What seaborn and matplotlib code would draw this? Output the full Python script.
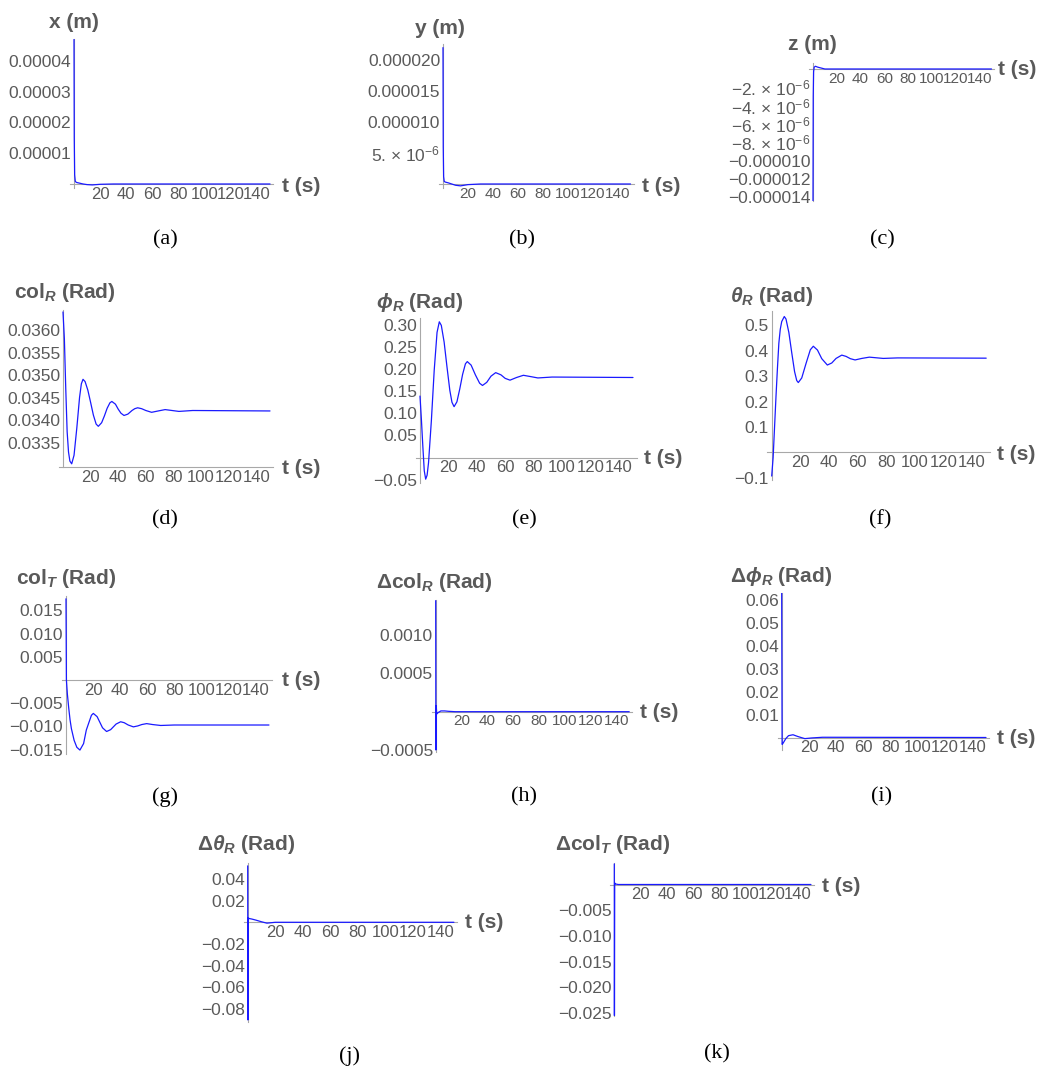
import seaborn as sns
import matplotlib.pyplot as plt
from matplotlib.ticker import FixedLocator, MultipleLocator

sns.set_style("white")
plt.rcParams['font.family'] = ['Liberation Sans', 'DejaVu Sans']
plt.rcParams['mathtext.fontset'] = 'custom'
plt.rcParams['mathtext.rm'] = 'Liberation Sans'
plt.rcParams['mathtext.it'] = 'Liberation Sans:italic'
plt.rcParams['mathtext.bf'] = 'Liberation Sans:bold'
plt.rcParams['mathtext.bfit'] = 'Liberation Sans:italic:bold'

# --- data ---
t_ticks = [20, 40, 60, 80, 100, 120, 140]
t_labels = ["20", "40", "60", "80", "100", "120", "140"]

t_a = [0, 0.2, 0.5, 1, 2, 4, 7, 10, 14, 20, 30, 150]
x_pos = [4.7e-5, 1.5e-5, 3e-6, 8e-7, 5e-7, 3e-7, 0, -2e-7, -3e-7, -1e-7, 0, 0]
x_ticks = [1e-5, 2e-5, 3e-5, 4e-5]
x_labels = ["0.00001", "0.00002", "0.00003", "0.00004"]

t_b = [0, 0.2, 0.5, 1, 2, 4, 7, 10, 14, 20, 30, 150]
y_pos = [22e-6, 6e-6, 1.2e-6, 4e-7, 3e-7, 2e-7, 0, -2e-7, -3e-7, -1e-7, 0, 0]
y_ticks = [5e-6, 1e-5, 1.5e-5, 2e-5]
y_labels = ["5. × 10$^{-6}$", "0.000010", "0.000015", "0.000020"]

t_c = [0, 0.2, 0.5, 1, 2, 4, 7, 10, 15, 150]
z_pos = [-1.44e-5, -3e-6, -3e-7, 2e-7, 3e-7, 2e-7, 1e-7, 0, 0, 0]
z_ticks = [-2e-6, -4e-6, -6e-6, -8e-6, -1e-5, -1.2e-5, -1.4e-5]
z_labels = ["\u22122. × 10$^{-6}$", "\u22124. × 10$^{-6}$", "\u22126. × 10$^{-6}$",
            "\u22128. × 10$^{-6}$", "\u22120.000010", "\u22120.000012", "\u22120.000014"]

t_d = [0, 1, 2, 3, 4, 5, 6.3, 8, 10, 12, 13.3, 14.5, 16, 18, 20, 22, 24, 25.6, 28, 30,
       32, 34, 35.4, 38, 40, 42, 44.2, 47, 50, 52, 54.1, 57, 60, 64.2, 69, 74, 84, 94, 150]
col_r = [0.03640, 0.03580, 0.03470, 0.03375, 0.03330, 0.03310, 0.03304, 0.03323, 0.03383,
         0.03451, 0.03481, 0.03491, 0.03486, 0.03467, 0.03440, 0.03412, 0.03392, 0.03387,
         0.03395, 0.03410, 0.03427, 0.03439, 0.03442, 0.03436, 0.03425, 0.03416, 0.03411,
         0.03414, 0.03422, 0.03426, 0.03428, 0.03426, 0.03422, 0.03418, 0.03421, 0.03424,
         0.03420, 0.03422, 0.03421]
col_r_ticks = [0.0335, 0.0340, 0.0345, 0.0350, 0.0355, 0.0360]
col_r_labels = ["0.0335", "0.0340", "0.0345", "0.0350", "0.0355", "0.0360"]

t_e = [0, 1, 2, 3, 4, 5, 6, 8, 10, 12, 13.6, 15, 17, 19, 21, 22.5, 24, 26, 28, 30, 32, 33.3,
       36, 39, 42, 44, 47, 50, 53.3, 57, 60, 63.4, 68, 72.8, 78, 83, 93, 150]
phi_r = [0.139, 0.085, 0.025, -0.030, -0.049, -0.040, -0.012, 0.083, 0.197, 0.283, 0.307,
         0.299, 0.261, 0.205, 0.152, 0.125, 0.115, 0.126, 0.155, 0.188, 0.212, 0.217, 0.209,
         0.187, 0.168, 0.163, 0.170, 0.184, 0.192, 0.187, 0.179, 0.175, 0.181, 0.186, 0.183,
         0.180, 0.182, 0.181]
phi_r_ticks = [-0.05, 0.05, 0.10, 0.15, 0.20, 0.25, 0.30]
phi_r_labels = ["\u22120.05", "0.05", "0.10", "0.15", "0.20", "0.25", "0.30"]

t_f = [0, 1, 2, 3, 4, 5, 6, 7, 8.8, 10, 12, 14, 16, 17.5, 18.6, 21, 24, 27, 29.1, 32, 35,
       38.9, 42, 45, 49, 52, 55, 58.3, 63, 68.3, 78, 88, 150]
theta_r = [-0.093, -0.020, 0.100, 0.220, 0.330, 0.430, 0.485, 0.515, 0.535, 0.525, 0.472,
           0.393, 0.318, 0.283, 0.275, 0.293, 0.350, 0.404, 0.418, 0.403, 0.369, 0.344,
           0.352, 0.370, 0.383, 0.378, 0.369, 0.364, 0.370, 0.375, 0.370, 0.372, 0.371]
theta_r_ticks = [-0.1, 0.1, 0.2, 0.3, 0.4, 0.5]
theta_r_labels = ["\u22120.1", "0.1", "0.2", "0.3", "0.4", "0.5"]

t_g = [0, 0.3, 1, 2, 3, 4, 6, 8, 10.3, 13, 15, 17, 18.8, 20.2, 23, 25, 27, 30, 33, 35, 37,
       40.4, 43, 46, 49.8, 53, 56, 59.6, 64, 70, 80, 150]
col_t = [0.0175, 0.0000, -0.0030, -0.0060, -0.0086, -0.0105, -0.0130, -0.0145, -0.0151,
         -0.0137, -0.0108, -0.0091, -0.0076, -0.0072, -0.0079, -0.0091, -0.0103, -0.0111,
         -0.0107, -0.0101, -0.0095, -0.0090, -0.0092, -0.0097, -0.0101, -0.0099, -0.0096,
         -0.0094, -0.0096, -0.0098, -0.0097, -0.0097]
col_t_ticks = [-0.015, -0.010, -0.005, 0.005, 0.010, 0.015]
col_t_labels = ["\u22120.015", "\u22120.010", "\u22120.005", "0.005", "0.010", "0.015"]

t_h = [0, 0.15, 0.4, 0.8, 2, 4, 7, 10, 15, 150]
dcol_r = [0.00145, -0.00050, 0.00008, -0.00003, -0.00001, 0.00001, 0.00001, 0.000005, 0, 0]
dcol_r_ticks = [-0.0005, 0.0005, 0.0010]
dcol_r_labels = ["\u22120.0005", "0.0005", "0.0010"]

t_i = [0, 0.3, 1, 3, 5, 8.3, 12, 17, 22, 30, 150]
dphi_r = [0.063, -0.003, -0.0025, -0.0005, 0.0008, 0.0012, 0.0004, -0.0005, -0.0002, 0.0001, 0]
dphi_r_ticks = [0.01, 0.02, 0.03, 0.04, 0.05, 0.06]
dphi_r_labels = ["0.01", "0.02", "0.03", "0.04", "0.05", "0.06"]

t_j = [0, 0.15, 0.4, 1, 3, 6, 10, 14, 20, 150]
dtheta_r = [0.052, -0.090, 0.004, 0.0035, 0.003, 0.002, 0.0005, -0.0008, 0, 0]
dtheta_r_ticks = [-0.08, -0.06, -0.04, -0.02, 0.02, 0.04]
dtheta_r_labels = ["\u22120.08", "\u22120.06", "\u22120.04", "\u22120.02", "0.02", "0.04"]

t_k = [0, 0.1, 0.3, 1, 3, 150]
dcol_t = [0.004, -0.0255, 0.0003, 0.0001, 0, 0]
dcol_t_ticks = [-0.025, -0.020, -0.015, -0.010, -0.005]
dcol_t_labels = ["\u22120.025", "\u22120.020", "\u22120.015", "\u22120.010", "\u22120.005"]

# --- layout (pixels) ---
W, H = 1045, 1078
fig = plt.figure(figsize=(W / 100, H / 100), dpi=100)

panels = [
    dict(t=t_a, v=x_pos, yt=x_ticks, yl=x_labels, minor=2e-6, title="x (m)", cap="(a)",
         ox=74, oy=184, sx=1.307, sy=3.075e6, ylim=(-1.3e-6, 4.72e-5), y0=0,
         title_xy=(74, 22), ts_xy=(282, 187), cap_xy=(165, 240)),
    dict(t=t_b, v=y_pos, yt=y_ticks, yl=y_labels, minor=1e-6, title="y (m)", cap="(b)",
         ox=443, oy=184, sx=1.25, sy=6.2e6, ylim=(-6.5e-7, 2.26e-5), y0=0,
         title_xy=(440, 28), ts_xy=(642, 187), cap_xy=(522, 240)),
    dict(t=t_c, v=z_pos, yt=z_ticks, yl=z_labels, minor=1e-6, title="z (m)", cap="(c)",
         ox=813, oy=69, sx=1.19, sy=9.17e6, ylim=(-1.44e-5, 6.5e-7), y0=0,
         title_xy=(812, 45), ts_xy=(998, 69), cap_xy=(882, 240)),
    dict(t=t_d, v=col_r, yt=col_r_ticks, yl=col_r_labels, minor=1e-4,
         title=r"col$_\mathbfit{R}$ (Rad)", cap="(d)",
         ox=63, oy=467, sx=1.38, sy=45200, ylim=(0.03297, 0.03644), y0=0.03297,
         title_xy=(65, 293), ts_xy=(282, 468), cap_xy=(165, 520)),
    dict(t=t_e, v=phi_r, yt=phi_r_ticks, yl=phi_r_labels, minor=0.01,
         title=r"$\mathbfit{\phi}_\mathbfit{R}$ (Rad)", cap="(e)",
         ox=420, oy=457.5, sx=1.42, sy=442, ylim=(-0.058, 0.316), y0=0,
         title_xy=(420, 302), ts_xy=(644, 458), cap_xy=(524, 520)),
    dict(t=t_f, v=theta_r, yt=theta_r_ticks, yl=theta_r_labels, minor=0.02,
         title=r"$\mathbfit{\theta}_\mathbfit{R}$ (Rad)", cap="(f)",
         ox=771.7, oy=452.4, sx=1.43, sy=254, ylim=(-0.108, 0.555), y0=0,
         title_xy=(772, 297), ts_xy=(997, 454), cap_xy=(880, 520)),
    dict(t=t_g, v=col_t, yt=col_t_ticks, yl=col_t_labels, minor=0.001,
         title=r"col$_\mathbfit{T}$ (Rad)", cap="(g)",
         ox=66, oy=680, sx=1.353, sy=4640, ylim=(-0.0160, 0.0180), y0=0,
         title_xy=(66, 579), ts_xy=(282, 681), cap_xy=(165, 797)),
    dict(t=t_h, v=dcol_r, yt=dcol_r_ticks, yl=dcol_r_labels, minor=1e-4,
         title=r"Δcol$_\mathbfit{R}$ (Rad)", cap="(h)",
         ox=435.7, oy=711.7, sx=1.29, sy=76600, ylim=(-0.00052, 0.00146), y0=0,
         title_xy=(434, 583), ts_xy=(640, 712), cap_xy=(524, 797)),
    dict(t=t_i, v=dphi_r, yt=dphi_r_ticks, yl=dphi_r_labels, minor=0.002,
         title=r"Δ$\mathbfit{\phi}_\mathbfit{R}$ (Rad)", cap="(i)",
         ox=781.7, oy=737.5, sx=1.362, sy=2290, ylim=(-0.0055, 0.063), y0=0,
         title_xy=(781, 577), ts_xy=(997, 738), cap_xy=(882, 797)),
    dict(t=t_j, v=dtheta_r, yt=dtheta_r_ticks, yl=dtheta_r_labels, minor=0.004,
         title=r"Δ$\mathbfit{\theta}_\mathbfit{R}$ (Rad)", cap="(j)",
         ox=247.7, oy=922.3, sx=1.375, sy=1085, ylim=(-0.0916, 0.055), y0=0,
         title_xy=(246, 845), ts_xy=(465, 923), cap_xy=(350, 1056)),
    dict(t=t_k, v=dcol_t, yt=dcol_t_ticks, yl=dcol_t_labels, minor=0.001,
         title=r"Δcol$_\mathbfit{T}$ (Rad)", cap="(k)",
         ox=614.3, oy=884.5, sx=1.311, sy=5140, ylim=(-0.0255, 0.0042), y0=0,
         title_xy=(613, 845), ts_xy=(822, 887), cap_xy=(717, 1054)),
]

XLIM = (-3, 152.5)
AXIS_GRAY = "#a8a8a8"
TEXT_GRAY = "#5a5a5a"

for p in panels:
    left = p["ox"] + XLIM[0] * p["sx"]
    width = (XLIM[1] - XLIM[0]) * p["sx"]
    top = p["oy"] - (p["ylim"][1] - p["y0"]) * p["sy"]
    bottom = p["oy"] - (p["ylim"][0] - p["y0"]) * p["sy"]
    ax = fig.add_axes([left / W, 1 - bottom / H, width / W, (bottom - top) / H])
    ax.patch.set_alpha(0)

    sns.lineplot(x=p["t"], y=p["v"], ax=ax, color="#1a1aff", linewidth=0.9,
                 estimator=None, sort=False, zorder=3)
    ax.set_xlim(XLIM)
    ax.set_ylim(p["ylim"])

    for s in ["top", "right"]:
        ax.spines[s].set_visible(False)
    ax.spines["left"].set_position(("data", 0))
    ax.spines["bottom"].set_position(("data", p["y0"]))
    for s in ["left", "bottom"]:
        ax.spines[s].set_color(AXIS_GRAY)
        ax.spines[s].set_linewidth(0.8)

    ax.xaxis.set_major_locator(FixedLocator(t_ticks))
    ax.set_xticklabels(t_labels)
    ax.xaxis.set_minor_locator(MultipleLocator(5))
    ax.yaxis.set_major_locator(FixedLocator(p["yt"]))
    ax.set_yticklabels(p["yl"])
    ax.yaxis.set_minor_locator(MultipleLocator(p["minor"]))
    ax.tick_params(which="both", direction="in", color=AXIS_GRAY, width=0.6,
                   labelcolor=TEXT_GRAY, pad=2)
    ax.tick_params(axis="y", labelsize=12.5)
    # narrow panels crowd the time labels, keep them a touch smaller
    ax.tick_params(axis="x", labelsize=12 if p["sx"] > 1.3 else 11)
    ax.tick_params(which="major", length=4)
    ax.tick_params(which="minor", length=2)
    ax.set_xlabel("")
    ax.set_ylabel("")

    tx, ty = p["title_xy"]
    fig.text(tx / W, 1 - ty / H, p["title"], ha="center", va="center",
             fontsize=15, fontweight="bold", color=TEXT_GRAY)
    sx_, sy_ = p["ts_xy"]
    fig.text(sx_ / W, 1 - sy_ / H, "t (s)", ha="left", va="center",
             fontsize=15, fontweight="bold", color=TEXT_GRAY)
    cx, cy = p["cap_xy"]
    fig.text(cx / W, 1 - cy / H, p["cap"], ha="center", va="center",
             fontsize=16, family="Liberation Serif", color="black")

fig.savefig("out.png", dpi=100)
